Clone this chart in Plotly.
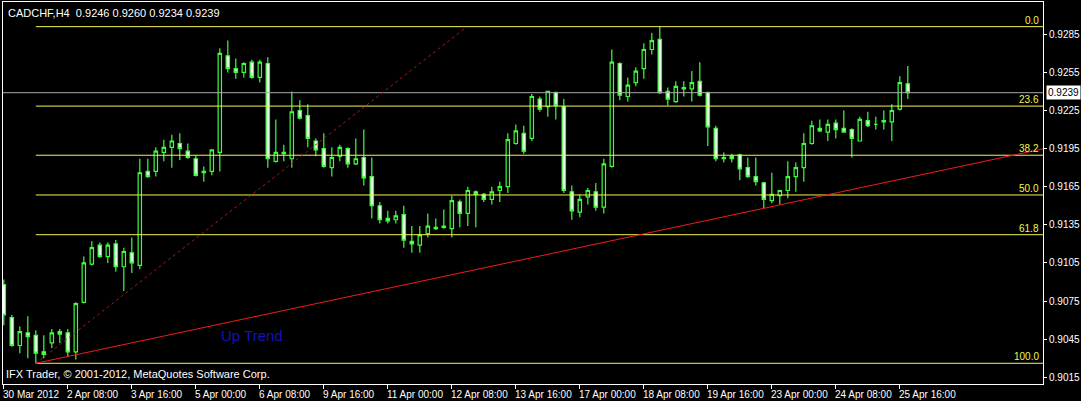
import pandas as pd
import plotly.graph_objects as go

# H4 bars, weekdays only (30 Mar 2012 00:00 .. 25 Apr 2012 20:00)
bars = pd.date_range("2012-03-30 00:00", "2012-04-25 20:00", freq="4h")
bars = bars[bars.dayofweek < 5]
times = [t.strftime("%Y.%m.%d %H:%M") for t in bars]

open_ = [0.9088, 0.9062, 0.9040, 0.9050, 0.9048, 0.9035, 0.9042, 0.9051, 0.9050, 0.9035,
         0.9074, 0.9104, 0.9119, 0.9110, 0.9120, 0.9102, 0.9113, 0.9103, 0.9177, 0.9177,
         0.9192, 0.9196, 0.9199, 0.9193, 0.9187, 0.9176, 0.9177, 0.9192, 0.9268, 0.9258,
         0.9255, 0.9263, 0.9251, 0.9262, 0.9185, 0.9191, 0.9187, 0.9225, 0.9221, 0.9201,
         0.9195, 0.9180, 0.9189, 0.9195, 0.9183, 0.9188, 0.9173, 0.9150, 0.9140, 0.9139,
         0.9143, 0.9122, 0.9119, 0.9128, 0.9132, 0.9134, 0.9132, 0.9153, 0.9144, 0.9161,
         0.9159, 0.9155, 0.9162, 0.9165, 0.9199, 0.9207, 0.9203, 0.9234, 0.9228, 0.9239,
         0.9228, 0.9161, 0.9145, 0.9157, 0.9161, 0.9149, 0.9181, 0.9262, 0.9236, 0.9247,
         0.9258, 0.9273, 0.9281, 0.9240, 0.9232, 0.9243, 0.9242, 0.9248, 0.9239, 0.9211,
         0.9188, 0.9189, 0.9190, 0.9180, 0.9173, 0.9168, 0.9154, 0.9158, 0.9162, 0.9173,
         0.9180, 0.9199, 0.9211, 0.9208, 0.9215, 0.9211, 0.9210, 0.9201, 0.9217, 0.9214,
         0.9216, 0.9216, 0.9226, 0.9246]
high = [0.9092, 0.9064, 0.9055, 0.9063, 0.9052, 0.9048, 0.9053, 0.9053, 0.9053, 0.9074,
        0.9110, 0.9122, 0.9121, 0.9121, 0.9123, 0.9117, 0.9125, 0.9187, 0.9187, 0.9196,
        0.9202, 0.9206, 0.9207, 0.9199, 0.9190, 0.9181, 0.9194, 0.9274, 0.9280, 0.9266,
        0.9263, 0.9265, 0.9265, 0.9267, 0.9218, 0.9198, 0.9240, 0.9233, 0.9230, 0.9203,
        0.9207, 0.9196, 0.9198, 0.9196, 0.9203, 0.9210, 0.9188, 0.9153, 0.9146, 0.9146,
        0.9150, 0.9134, 0.9134, 0.9144, 0.9140, 0.9147, 0.9158, 0.9155, 0.9165, 0.9162,
        0.9160, 0.9165, 0.9169, 0.9207, 0.9214, 0.9213, 0.9238, 0.9236, 0.9240, 0.9240,
        0.9234, 0.9166, 0.9159, 0.9164, 0.9168, 0.9187, 0.9273, 0.9263, 0.9251, 0.9259,
        0.9278, 0.9286, 0.9291, 0.9243, 0.9248, 0.9248, 0.9256, 0.9263, 0.9240, 0.9213,
        0.9192, 0.9191, 0.9191, 0.9188, 0.9188, 0.9169, 0.9176, 0.9162, 0.9185, 0.9184,
        0.9207, 0.9217, 0.9218, 0.9218, 0.9218, 0.9225, 0.9211, 0.9220, 0.9224, 0.9220,
        0.9225, 0.9230, 0.9252, 0.9260]
low = [0.9056, 0.9039, 0.9034, 0.9030, 0.9026, 0.9030, 0.9038, 0.9042, 0.9031, 0.9029,
       0.9073, 0.9103, 0.9109, 0.9105, 0.9098, 0.9083, 0.9097, 0.9100, 0.9172, 0.9173,
       0.9185, 0.9180, 0.9186, 0.9187, 0.9173, 0.9169, 0.9174, 0.9177, 0.9255, 0.9250,
       0.9251, 0.9250, 0.9247, 0.9180, 0.9184, 0.9185, 0.9180, 0.9218, 0.9196, 0.9189,
       0.9180, 0.9173, 0.9185, 0.9180, 0.9182, 0.9166, 0.9140, 0.9136, 0.9136, 0.9136,
       0.9117, 0.9113, 0.9113, 0.9125, 0.9131, 0.9132, 0.9125, 0.9133, 0.9134, 0.9133,
       0.9153, 0.9151, 0.9153, 0.9160, 0.9198, 0.9191, 0.9201, 0.9224, 0.9220, 0.9218,
       0.9160, 0.9139, 0.9141, 0.9151, 0.9146, 0.9144, 0.9180, 0.9233, 0.9232, 0.9244,
       0.9250, 0.9269, 0.9238, 0.9229, 0.9231, 0.9236, 0.9232, 0.9236, 0.9197, 0.9185,
       0.9184, 0.9184, 0.9170, 0.9172, 0.9166, 0.9148, 0.9152, 0.9151, 0.9156, 0.9161,
       0.9169, 0.9198, 0.9208, 0.9201, 0.9203, 0.9208, 0.9188, 0.9201, 0.9212, 0.9210,
       0.9210, 0.9201, 0.9225, 0.9234]
close = [0.9064, 0.9040, 0.9051, 0.9047, 0.9034, 0.9033, 0.9050, 0.9049, 0.9035, 0.9073,
         0.9105, 0.9117, 0.9110, 0.9119, 0.9102, 0.9114, 0.9105, 0.9176, 0.9173, 0.9193,
         0.9196, 0.9201, 0.9195, 0.9188, 0.9174, 0.9177, 0.9194, 0.9270, 0.9258, 0.9255,
         0.9262, 0.9251, 0.9263, 0.9187, 0.9192, 0.9192, 0.9224, 0.9219, 0.9203, 0.9194,
         0.9181, 0.9188, 0.9196, 0.9183, 0.9187, 0.9172, 0.9150, 0.9139, 0.9138, 0.9142,
         0.9123, 0.9120, 0.9127, 0.9134, 0.9133, 0.9133, 0.9154, 0.9144, 0.9162, 0.9159,
         0.9155, 0.9161, 0.9165, 0.9202, 0.9209, 0.9193, 0.9236, 0.9226, 0.9240, 0.9229,
         0.9162, 0.9146, 0.9155, 0.9162, 0.9149, 0.9183, 0.9263, 0.9237, 0.9245, 0.9256,
         0.9273, 0.9280, 0.9239, 0.9234, 0.9244, 0.9242, 0.9247, 0.9237, 0.9212, 0.9187,
         0.9187, 0.9187, 0.9179, 0.9173, 0.9169, 0.9155, 0.9159, 0.9162, 0.9173, 0.9180,
         0.9199, 0.9213, 0.9209, 0.9214, 0.9210, 0.9208, 0.9203, 0.9218, 0.9213, 0.9214,
         0.9217, 0.9225, 0.9247, 0.9239]

price_ticks = [0.9015, 0.9045, 0.9075, 0.9105, 0.9135, 0.9165, 0.9195, 0.9225, 0.9255, 0.9285]
fib_levels = [0.0, 23.6, 38.2, 50.0, 61.8, 100.0]
fib_from_bar = 4          # swing low
fib_to_bar = 82           # swing high
trend_bars = [4, 95]      # "Up Trend" anchored on these lows
dotted_x = [4, 57.5]      # angled helper line
dotted_y = [0.9026, 0.9289]

X_END = 129.9
Y_RANGE = [0.90097, 0.93104]
GREEN = "#3CFF3C"
FIB = "#F4F44C"
FONT = "Liberation Sans"

fig = go.Figure(go.Candlestick(
    x=times, open=open_, high=high, low=low, close=close,
    increasing=dict(line=dict(color=GREEN, width=1.2), fillcolor="#000000"),
    decreasing=dict(line=dict(color=GREEN, width=1.2), fillcolor="#FFFFFF"),
    whiskerwidth=0, hoverinfo="skip", showlegend=False,
))

shapes = []
annotations = []

# Fibonacci retracement
f_hi = high[fib_to_bar]
f_lo = low[fib_from_bar]
for lv in fib_levels:
    p = f_hi - lv / 100 * (f_hi - f_lo)
    shapes.append(dict(type="line", xref="x", yref="y", x0=fib_from_bar, x1=X_END,
                       y0=p, y1=p, line=dict(color=FIB, width=1)))
    annotations.append(dict(xref="paper", yref="y", x=1, y=p, text="%.1f" % lv,
                            xanchor="right", yanchor="bottom", xshift=-2, yshift=-1,
                            showarrow=False, font=dict(family=FONT, size=10, color=FIB)))

# bid line
shapes.append(dict(type="line", xref="paper", yref="y", x0=0, x1=1, y0=close[-1], y1=close[-1],
                   line=dict(color="#A8A8A8", width=1)))

# up trend ray
t0, t1 = trend_bars
slope = (low[t1] - low[t0]) / (t1 - t0)
shapes.append(dict(type="line", xref="x", yref="y", x0=t0, y0=low[t0],
                   x1=X_END, y1=low[t0] + slope * (X_END - t0),
                   line=dict(color="#F01C1C", width=1)))
shapes.append(dict(type="line", xref="x", yref="y", x0=dotted_x[0], y0=dotted_y[0],
                   x1=dotted_x[1], y1=dotted_y[1],
                   line=dict(color="#A01C1C", width=1, dash="dot")))

annotations.append(dict(xref="x", yref="y", x=26.9, y=0.90482, text="Up Trend",
                        xanchor="left", yanchor="middle", showarrow=False,
                        font=dict(family=FONT, size=15, color="#1414B4")))

# header / footer
annotations.append(dict(xref="paper", yref="paper", x=0, y=1, xanchor="left", yanchor="top",
                        xshift=3, yshift=-3, showarrow=False,
                        text="CADCHF,H4  %.4f %.4f %.4f %.4f" % (open_[-1], high[-1], low[-1], close[-1]),
                        font=dict(family=FONT, size=11, color="#FFFFFF")))
annotations.append(dict(xref="paper", yref="paper", x=0, y=0, xanchor="left", yanchor="bottom",
                        xshift=1, yshift=2, showarrow=False,
                        text="IFX Trader, © 2001-2012, MetaQuotes Software Corp.",
                        font=dict(family=FONT, size=11, color="#FFFFFF")))

# current price box
annotations.append(dict(xref="paper", yref="y", x=1, y=close[-1], xanchor="left", yanchor="middle",
                        xshift=3, showarrow=False, text="%.4f" % close[-1], bgcolor="#FFFFFF",
                        borderpad=1, font=dict(family=FONT, size=10, color="#000000")))

# time labels, every 8 bars, left aligned at the tick
tick_idx = list(range(0, len(times), 8))
for k, i in enumerate(tick_idx):
    lab = "30 Mar 2012" if k == 0 else "%d %s" % (bars[i].day, bars[i].strftime("%b %H:%M"))
    annotations.append(dict(xref="x", yref="paper", x=i, y=0, xanchor="left", yanchor="top",
                            xshift=-3, yshift=-3, showarrow=False, text=lab,
                            font=dict(family=FONT, size=10, color="#FFFFFF")))

fig.update_layout(
    width=1081, height=401,
    margin=dict(l=3, r=38, t=2, b=17),
    paper_bgcolor="#000000", plot_bgcolor="#000000",
    boxgap=0.4,
    shapes=shapes, annotations=annotations,
    xaxis=dict(type="category", range=[-0.1, X_END], rangeslider=dict(visible=False),
               showgrid=False, zeroline=False, showline=True, linecolor="#FFFFFF", linewidth=1,
               mirror=True, ticks="outside", ticklen=4, tickcolor="#FFFFFF",
               tickvals=[times[i] for i in tick_idx], showticklabels=False),
    yaxis=dict(side="right", range=Y_RANGE, showgrid=False, zeroline=False,
               showline=True, linecolor="#FFFFFF", linewidth=1, mirror=True,
               ticks="outside", ticklen=3, tickcolor="#FFFFFF",
               tickvals=price_ticks, ticktext=["%.4f" % p for p in price_ticks],
               tickfont=dict(family=FONT, size=10, color="#FFFFFF")),
    hovermode=False,
)

fig.write_html("out.html", config={"displayModeBar": False},
               post_script="document.body.style.margin='0';document.body.style.background='#000';")
